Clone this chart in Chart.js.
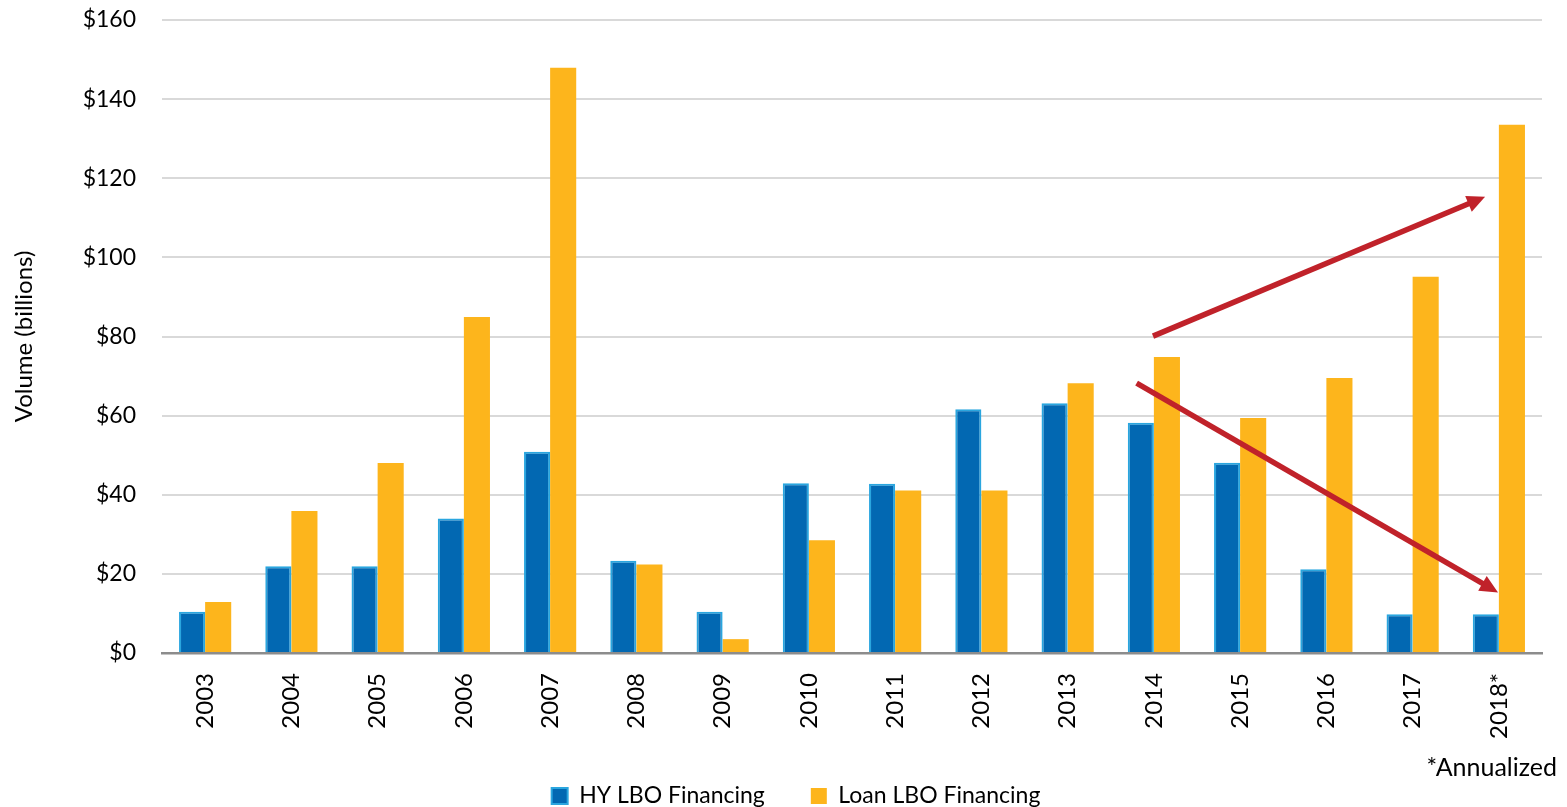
<!DOCTYPE html>
<html>
<head>
<meta charset="utf-8">
<script src="https://cdn.jsdelivr.net/npm/chart.js@4"></script>
<style>
  html, body { margin: 0; padding: 0; background: #fff; }
  #wrap { width: 1567px; height: 807px; }
</style>
</head>
<body>
<div id="wrap"><canvas id="lboChart"></canvas></div>
<script>
const years = ['2003', '2004', '2005', '2006', '2007', '2008', '2009', '2010',
               '2011', '2012', '2013', '2014', '2015', '2016', '2017', '2018*'];
const hyLbo = [10.4, 21.9, 21.9, 34.0, 50.9, 23.3, 10.4, 42.9, 42.8, 61.6, 63.1, 58.2, 48.1, 21.2, 9.8, 9.8];
const loanLbo = [12.9, 35.9, 48.0, 84.9, 147.9, 22.4, 3.5, 28.5, 41.1, 41.1, 68.2, 74.8, 59.4, 69.5, 95.1, 133.5];
const yTicks = [0, 20, 40, 60, 80, 100, 120, 140, 160];

// trend arrows in data units: [category index, value]
const trendArrows = [
    { from: [10.99, 80.1], to: [14.84, 115.3] },
    { from: [10.80, 68.2], to: [14.99, 15.3] }
];

const FONT = 'Lato, "Open Sans", sans-serif';

const arrowPlugin = {
    id: 'trendArrows',
    afterDatasetsDraw(chart) {
        const { ctx, scales: { x, y } } = chart;
        ctx.save();
        ctx.strokeStyle = '#C0222A';
        ctx.fillStyle = '#C0222A';
        ctx.lineWidth = 5.5;
        trendArrows.forEach(a => {
            const x1 = x.getPixelForValue(a.from[0]), y1 = y.getPixelForValue(a.from[1]);
            const x2 = x.getPixelForValue(a.to[0]), y2 = y.getPixelForValue(a.to[1]);
            const ang = Math.atan2(y2 - y1, x2 - x1);
            const head = 18, half = 8.5;
            const bx = x2 - head * Math.cos(ang), by = y2 - head * Math.sin(ang);
            ctx.beginPath();
            ctx.moveTo(x1, y1);
            ctx.lineTo(bx + 2 * Math.cos(ang), by + 2 * Math.sin(ang));
            ctx.stroke();
            ctx.beginPath();
            ctx.moveTo(x2, y2);
            ctx.lineTo(bx + half * Math.sin(ang), by - half * Math.cos(ang));
            ctx.lineTo(bx - half * Math.sin(ang), by + half * Math.cos(ang));
            ctx.closePath();
            ctx.fill();
        });
        ctx.restore();
    }
};

// footnote under the axis labels, legend nudged a bit right like the original
const notePlugin = {
    id: 'annualNote',
    afterLayout(chart) {
        chart.legend.left += 25;
        chart.legend.right += 25;
    },
    afterDraw(chart) {
        const { ctx } = chart;
        ctx.save();
        ctx.font = '25px ' + FONT;
        ctx.fillStyle = '#000';
        ctx.textAlign = 'right';
        ctx.textBaseline = 'middle';
        ctx.fillText('*Annualized', chart.width - 10, chart.legend.top + 29);
        ctx.restore();
    }
};

const chart = new Chart(document.getElementById('lboChart'), {
    type: 'bar',
    data: {
        labels: years,
        datasets: [
            { label: 'HY LBO Financing', data: hyLbo, backgroundColor: '#0268B2',
              borderColor: '#2AA6DF', borderWidth: 2, borderSkipped: 'start' },
            { label: 'Loan LBO Financing', data: loanLbo, backgroundColor: '#FDB51C',
              borderColor: '#FDB51C', borderWidth: 0 }
        ]
    },
    options: {
        responsive: true, maintainAspectRatio: false, animation: false,
        layout: { padding: { left: 0, right: 25, top: 0, bottom: 0 } },
        datasets: { bar: { categoryPercentage: 0.605, barPercentage: 1.0 } },
        scales: {
            x: {
                grid: { display: false },
                border: { display: true, color: '#8C8C8C', width: 2.5 },
                ticks: { color: '#000', font: { family: FONT, size: 24 }, minRotation: 90, maxRotation: 90, padding: 12 },
                afterFit(s) { s.height = 85.5; }
            },
            y: {
                min: 0, max: 160,
                afterBuildTicks(s) { s.ticks = yTicks.map(v => ({ value: v })); },
                grid: { color: '#D9D9D9', lineWidth: 2, drawTicks: false },
                border: { display: false },
                ticks: { color: '#000', font: { family: FONT, size: 23 }, padding: 26, callback: v => '$' + v },
                title: { display: true, text: 'Volume (billions)', color: '#000',
                         font: { family: FONT, size: 24 }, padding: { top: 10, bottom: 0 } },
                afterFit(s) { s.width = 162; s.paddingTop = 20; }
            }
        },
        plugins: {
            legend: {
                position: 'bottom',
                maxHeight: 68.5,
                labels: { color: '#000', font: { family: FONT, size: 23 }, boxWidth: 16, boxHeight: 16, padding: 46 }
            },
            tooltip: { enabled: false }
        }
    },
    plugins: [arrowPlugin, notePlugin]
});
</script>
</body>
</html>
